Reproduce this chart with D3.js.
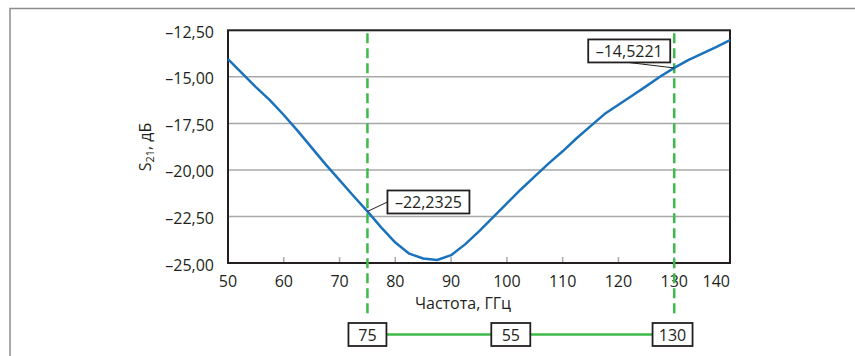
<!DOCTYPE html>
<html>
<head>
<meta charset="utf-8">
<script src="https://cdn.jsdelivr.net/npm/d3@7"></script>
<style>
  body { margin: 0; background: #fff; }
  text { font-family: "Open Sans", sans-serif; fill: #231f20; }
</style>
</head>
<body>
<div id="chart"></div>
<script>
// S21 vs frequency
const freq = [50, 52.5, 55, 57.5, 60, 62.5, 65, 67.5, 70, 72.5, 75, 77.5, 80, 82.5, 85, 87.5,
  90, 92.5, 95, 97.5, 100, 102.5, 105, 107.5, 110, 112.5, 115, 117.5, 120, 122.5, 125, 127.5,
  130, 132.5, 135, 137.5, 140]
const s21 = [-14.05, -14.8, -15.55, -16.25, -17.05, -17.9, -18.8, -19.7, -20.55, -21.4, -22.23,
  -23.1, -23.9, -24.5, -24.76, -24.84, -24.58, -24.0, -23.3, -22.55, -21.8, -21.05, -20.35,
  -19.65, -19.0, -18.3, -17.65, -17.0, -16.5, -16.0, -15.5, -14.98, -14.52, -14.1, -13.75,
  -13.4, -13.03]
const xTicks = [50, 60, 70, 80, 90, 100, 110, 120, 130, 140]
const yTicks = [-12.5, -15, -17.5, -20, -22.5, -25]
const markerFreqs = [75, 130]
const markerValues = [-22.2325, -14.5221]
const bandLabel = 55

const width = 855, height = 356
const pLeft = 228, pRight = 730, pTop = 30.3, pBottom = 263

const loc = d3.formatLocale({decimal: ",", thousands: " ", grouping: [3], currency: ["", ""], minus: "\u2013"})
const fmt2 = loc.format(".2f")
const fmt4 = loc.format(".4f")

const svg = d3.select("#chart").append("svg").attr("width", width).attr("height", height)

let x = d3.scaleLinear().domain([50, 140]).range([pLeft, pRight])
let y = d3.scaleLinear().domain([-25, -12.5]).range([pBottom, pTop])

// outer frame (only top and left visible)
svg.append("path").attr("d", "M10,356 V8.5 H855").attr("fill", "none")
  .attr("stroke", "#8c8c8c").attr("stroke-width", 1.5)

// grid lines
svg.append("g").selectAll("line").data(yTicks.slice(1, -1)).enter().append("line")
  .attr("x1", pLeft).attr("x2", pRight)
  .attr("y1", d => y(d)).attr("y2", d => y(d))
  .attr("stroke", "#a8a8a8").attr("stroke-width", 1.5)

// small ticks on the bottom axis
svg.append("g").selectAll("line").data(xTicks.slice(1, -1)).enter().append("line")
  .attr("x1", d => x(d)).attr("x2", d => x(d))
  .attr("y1", pBottom).attr("y2", pBottom - 6)
  .attr("stroke", "#a8a8a8").attr("stroke-width", 1.5)

// plot frame
svg.append("rect").attr("x", pLeft).attr("y", pTop)
  .attr("width", pRight - pLeft).attr("height", pBottom - pTop)
  .attr("fill", "none").attr("stroke", "#231f20").attr("stroke-width", 2)

// y tick labels
svg.append("g").selectAll("text").data(yTicks).enter().append("text")
  .attr("x", 214).attr("y", d => y(d) + 7.5)
  .attr("text-anchor", "end").attr("font-size", 16)
  .text(d => fmt2(d))

// x tick labels (last one kept inside the frame)
svg.append("g").selectAll("text").data(xTicks).enter().append("text")
  .attr("x", (d, i) => i == xTicks.length - 1 ? pRight : x(d))
  .attr("y", 287)
  .attr("text-anchor", (d, i) => i == xTicks.length - 1 ? "end" : "middle")
  .attr("font-size", 16)
  .text(d => d)

// axis titles
svg.append("text").attr("x", 463).attr("y", 309).attr("text-anchor", "middle")
  .attr("font-size", 16).text("Частота, ГГц")

let yt = svg.append("text").attr("transform", "translate(151,147) rotate(-90)")
  .attr("text-anchor", "middle").attr("font-size", 16)
yt.append("tspan").text("S")
yt.append("tspan").attr("font-size", 11).attr("dy", 3).text("21")
yt.append("tspan").attr("dy", -3).text(", дБ")

// marker lines
svg.append("g").selectAll("line").data(markerFreqs).enter().append("line")
  .attr("x1", d => x(d)).attr("x2", d => x(d))
  .attr("y1", pTop + 3).attr("y2", 317)
  .attr("stroke", "#3dba4a").attr("stroke-width", 2.5)
  .attr("stroke-dasharray", "10,5")

// curve
let line = d3.line().x((d, i) => x(freq[i])).y(d => y(d))
svg.append("path").datum(s21).attr("d", line)
  .attr("fill", "none").attr("stroke", "#1a72bd").attr("stroke-width", 2.5)
  .attr("stroke-linejoin", "round")

// callouts for marker values
function callout(cx, cy, px, py, ax, ay, label) {
  let w = 82, h = 23
  svg.append("line").attr("x1", px).attr("y1", py).attr("x2", ax).attr("y2", ay)
    .attr("stroke", "#231f20").attr("stroke-width", 1)
  svg.append("rect").attr("x", cx - w / 2).attr("y", cy - h / 2).attr("width", w).attr("height", h)
    .attr("fill", "#fff").attr("stroke", "#231f20").attr("stroke-width", 1.8)
  svg.append("text").attr("x", cx).attr("y", cy + 6).attr("text-anchor", "middle")
    .attr("font-size", 16).text(label)
}
let p0 = [x(markerFreqs[0]), y(markerValues[0])]
callout(p0[0] + 61, p0[1] - 9.5, p0[0], p0[1], p0[0] + 20, p0[1] - 9.5, fmt4(markerValues[0]))
let p1 = [x(markerFreqs[1]), y(markerValues[1])]
callout(p1[0] - 45, p1[1] - 17, p1[0], p1[1], p1[0] - 46, p1[1] - 5.5, fmt4(markerValues[1]))

// band indicator at the bottom
const bandY = 334.5
svg.append("line").attr("x1", x(markerFreqs[0])).attr("x2", x(markerFreqs[1]))
  .attr("y1", bandY).attr("y2", bandY)
  .attr("stroke", "#3dba4a").attr("stroke-width", 2.5)

let bandBoxes = [
  {f: markerFreqs[0], text: markerFreqs[0], w: 38},
  {f: (markerFreqs[0] + markerFreqs[1]) / 2 - 1.8, text: bandLabel, w: 39},
  {f: markerFreqs[1] - 0.3, text: markerFreqs[1], w: 40}
]
let bb = svg.append("g").selectAll("g").data(bandBoxes).enter().append("g")
bb.append("rect").attr("x", d => x(d.f) - d.w / 2).attr("y", bandY - 11.5)
  .attr("width", d => d.w).attr("height", 23)
  .attr("fill", "#fff").attr("stroke", "#231f20").attr("stroke-width", 1.8)
bb.append("text").attr("x", d => x(d.f)).attr("y", bandY + 6)
  .attr("text-anchor", "middle").attr("font-size", 16).text(d => d.text)
</script>
</body>
</html>
